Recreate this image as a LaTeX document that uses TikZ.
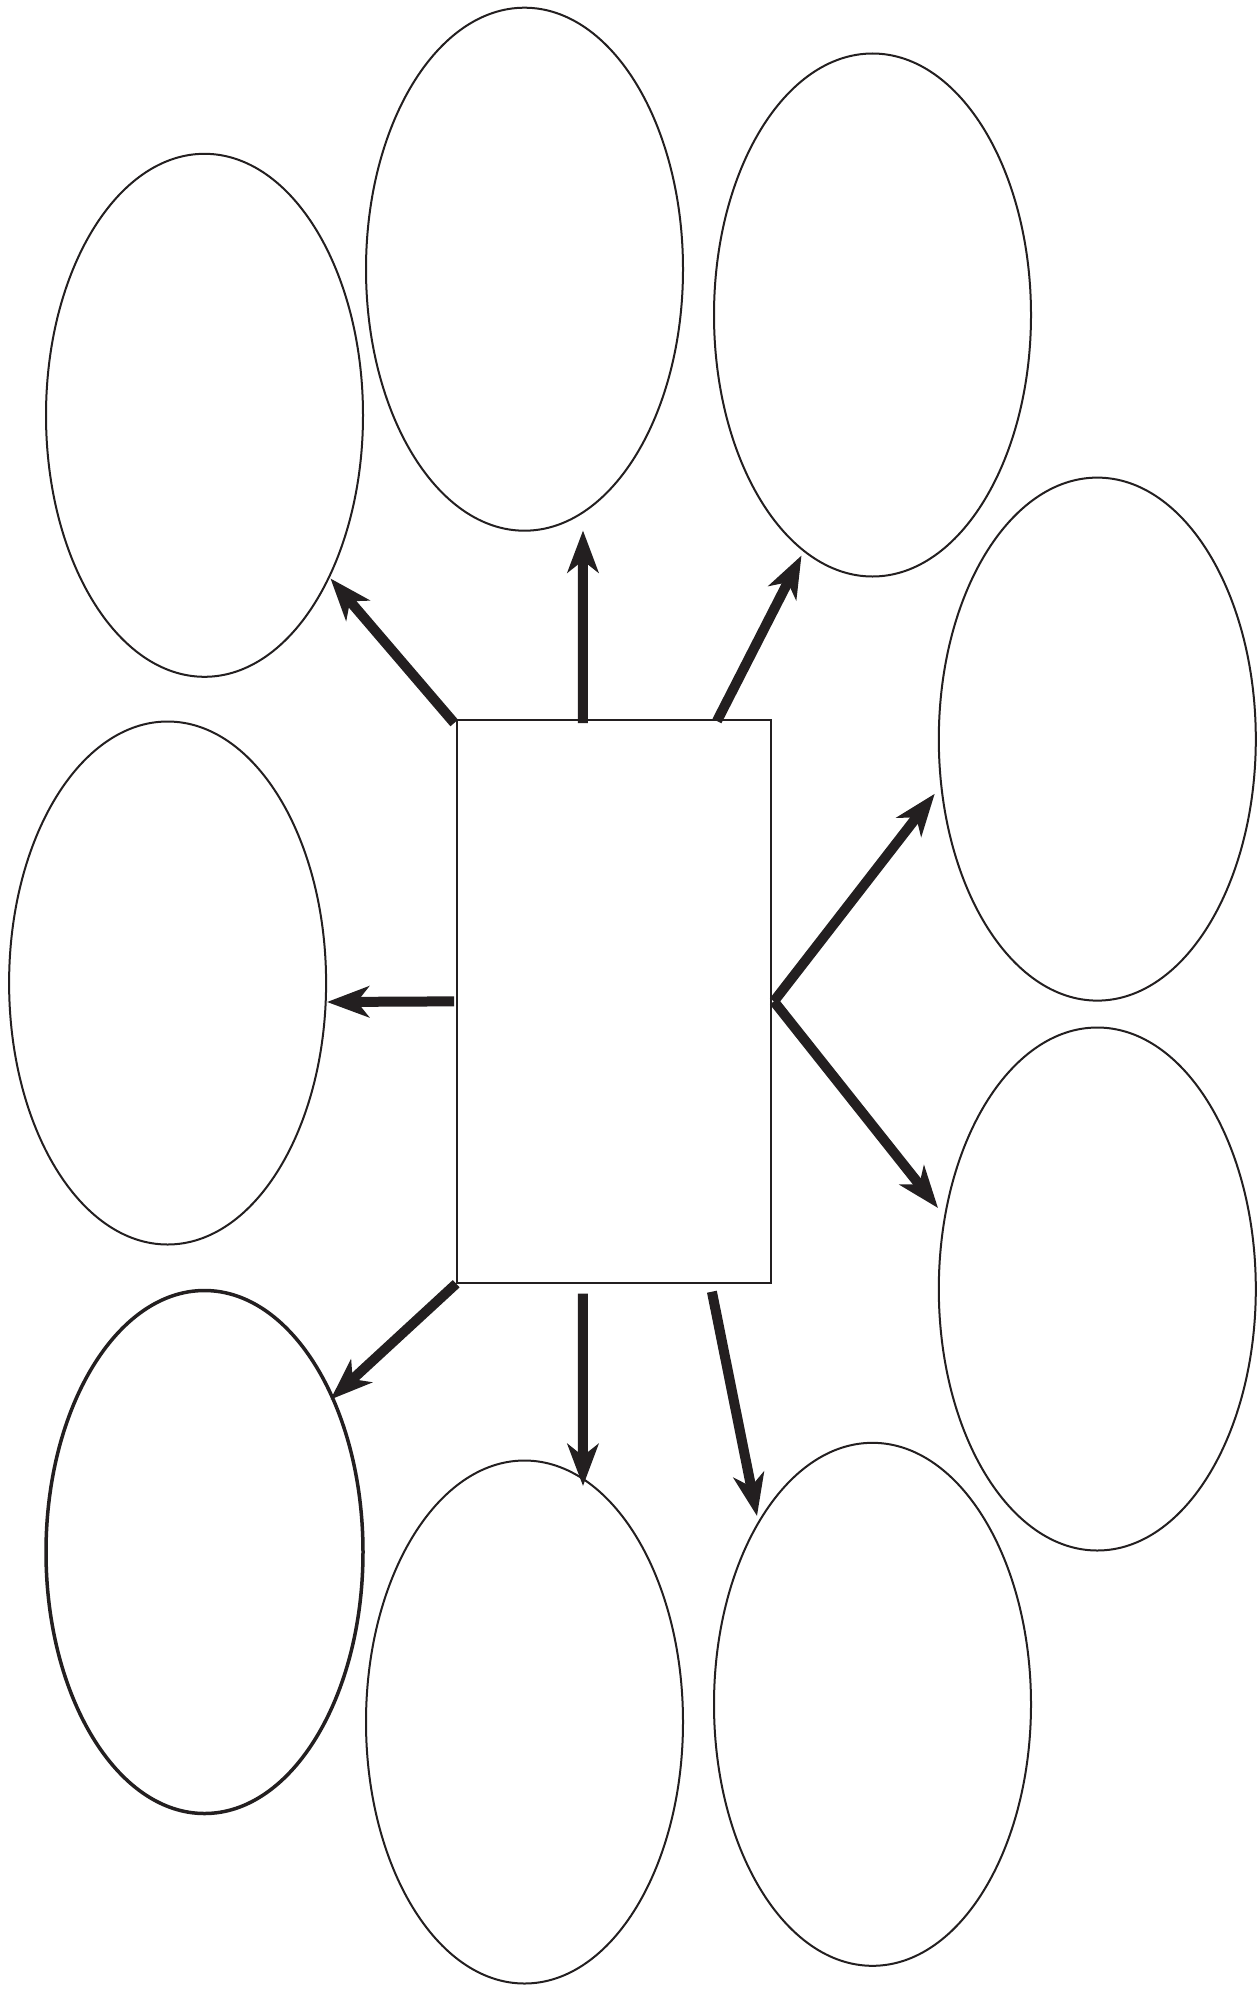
\documentclass[tikz,border=0pt]{standalone}
\usetikzlibrary{shapes.geometric,arrows.meta,calc}
\definecolor{ink}{HTML}{231F20}
\begin{document}
\begin{tikzpicture}[x=1pt,y=-1pt,
  bubble/.style={draw=ink,line width=2pt,ellipse,minimum width=317pt,minimum height=523pt,inner sep=0pt},
  hub/.style={draw=ink,line width=2pt,rectangle,minimum width=313.7pt,minimum height=562.7pt,inner sep=0pt},
  link/.style={draw=ink,line width=10pt,-{Stealth[length=42pt,width=31pt,inset=12pt]}}]
\useasboundingbox (0,0) rectangle (1256,1991);
\fill[white] (0,0) rectangle (1256,1991);
% bubbles
\node[bubble] (e1) at (204.5,415.3) {};
\node[bubble] (e2) at (524.5,269.2) {};
\node[bubble] (e3) at (872.5,315) {};
\node[bubble] (e4) at (1097.3,739.1) {};
\node[bubble] (e5) at (1097.3,1289) {};
\node[bubble] (e6) at (167.6,983) {};
\node[bubble,line width=3.5pt] (e7) at (204.5,1552) {};
\node[bubble] (e8) at (524.5,1722) {};
\node[bubble] (e9) at (872.5,1704.3) {};
% central box
\node[hub] (r) at (614.05,1001.35) {};
% arrow ends
\coordinate (t1) at (330.5,578.5);
\coordinate (t2) at (583,530.5);
\coordinate (t3) at (801.5,555.5);
\coordinate (t4) at (934.7,793.8);
\coordinate (t5) at (938,1208);
\coordinate (t6) at (327,1002);
\coordinate (t7) at (330.5,1399.5);
\coordinate (t8) at (583,1486);
\coordinate (t9) at (757,1516);
% arrows
\draw[link] ([shift={(-2,4)}]r.north west) -- (t1);
\draw[link] ($(r.north west)!0.401!(r.north east)+(0,4)$) -- (t2);
\draw[link] ($(r.north west)!0.826!(r.north east)+(0,2)$) -- (t3);
\draw[link] ([xshift=2pt]r.east) -- (t4);
\draw[link] ([xshift=2pt]r.east) -- (t5);
\draw[link] ([xshift=-2pt]r.west) -- (t6);
\draw[link] (r.south west) -- (t7);
\draw[link] ($(r.south west)!0.401!(r.south east)+(0,10)$) -- (t8);
\draw[link] ($(r.south west)!0.81!(r.south east)+(0,8)$) -- (t9);
\end{tikzpicture}
\end{document}
